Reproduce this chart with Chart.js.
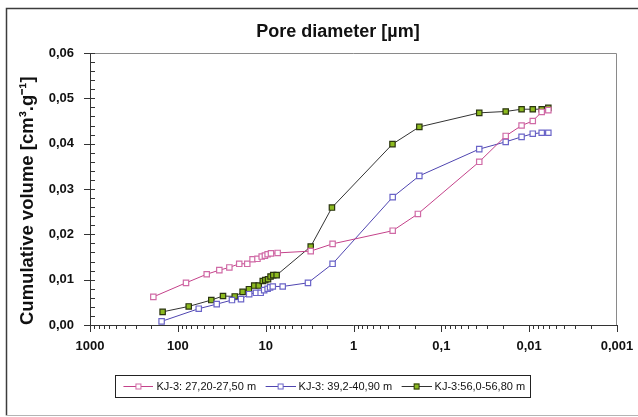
<!DOCTYPE html>
<html>
<head>
<meta charset="utf-8">
<script src="https://cdn.jsdelivr.net/npm/chart.js@4"></script>
<style>
  body { margin: 0; background: #fff; }
  canvas { display: block; }
</style>
</head>
<body>
<canvas id="poreChart" width="638" height="417"></canvas>
<script>
// pore diameter [um] and cumulative volume [cm3/g]
const seriesNames = ['KJ-3: 27,20-27,50 m', 'KJ-3: 39,2-40,90 m', 'KJ-3:56,0-56,80 m'];

const diameterA = [190, 80.7, 46.9, 33.7, 25.9, 20.0, 16.2, 14.1, 12.4, 11.1, 10.2, 9.5, 8.7, 7.3, 3.07, 1.73, 0.358, 0.185, 0.037, 0.0185, 0.0122, 0.0091, 0.0072, 0.00605];
const volumeA = [0.0062, 0.0093, 0.0112, 0.0121, 0.0127, 0.0135, 0.0135, 0.0145, 0.0146, 0.0151, 0.0153, 0.0156, 0.0158, 0.0159, 0.0163, 0.0179, 0.0208, 0.0245, 0.0360, 0.0417, 0.0440, 0.0450, 0.0470, 0.0474];

const diameterB = [153, 57.8, 36.1, 24.2, 19.1, 15.4, 12.9, 11.4, 10.4, 9.5, 8.9, 8.3, 6.4, 3.3, 1.73, 0.358, 0.178, 0.037, 0.0185, 0.0122, 0.0091, 0.0072, 0.00605];
const volumeB = [0.0008, 0.0036, 0.0046, 0.0055, 0.0057, 0.0068, 0.0071, 0.0071, 0.0077, 0.0080, 0.0083, 0.0085, 0.0085, 0.0093, 0.0135, 0.0282, 0.0329, 0.0388, 0.0404, 0.0415, 0.0422, 0.0424, 0.0424];

const diameterC = [149, 75.2, 41.6, 30.6, 22.5, 18.3, 15.5, 13.5, 12.0, 10.8, 10.1, 9.4, 8.8, 8.2, 7.5, 3.07, 1.76, 0.36, 0.178, 0.037, 0.0185, 0.0122, 0.0091, 0.0072, 0.00605];
const volumeC = [0.0029, 0.0041, 0.0055, 0.0064, 0.0063, 0.0073, 0.0079, 0.0087, 0.0087, 0.0097, 0.0099, 0.0101, 0.0107, 0.0110, 0.0110, 0.0173, 0.0259, 0.0399, 0.0437, 0.0468, 0.0471, 0.0476, 0.0476, 0.0476, 0.0479];

const xTickValues = [1000, 100, 10, 1, 0.1, 0.01, 0.001];
const yMin = 0;
const yMax = 0.06;
const yStep = 0.01;
const yMinorStep = 0.002;

const FONT = '"Liberation Sans", Arial, sans-serif';

function makeIcon(line, fill, edge) {
  const c = document.createElement('canvas');
  c.width = 36;
  c.height = 9;
  const g = c.getContext('2d');
  g.strokeStyle = line;
  g.lineWidth = 1;
  g.beginPath();
  g.moveTo(6, 4.5);
  g.lineTo(36, 4.5);
  g.stroke();
  g.fillStyle = fill;
  g.fillRect(18, 1.5, 6, 6);
  g.strokeStyle = edge;
  g.strokeRect(18.5, 2, 5, 5);
  return c;
}

function series(label, xs, ys, line, fill, edge) {
  return {
    label: label,
    data: xs.map((d, i) => ({ x: d, y: ys[i] })),
    borderColor: line,
    borderWidth: 1,
    pointStyle: 'rect',
    pointRadius: 3.8,
    pointHoverRadius: 3.8,
    pointBackgroundColor: fill,
    pointBorderColor: edge,
    pointBorderWidth: 1.2,
    tension: 0,
    fill: false
  };
}

const colors = [
  ['#c4428a', '#ffffff', '#d06aa6'],
  ['#4f45b0', '#ffffff', '#6a64c8'],
  ['#333333', '#8cba1f', '#2b3510']
];
const icons = colors.map(c => makeIcon(c[0], c[1], c[2]));

// frame, tick marks, title and legend box
const decorPlugin = {
  id: 'decor',
  afterDraw(chart) {
    const { ctx, chartArea: a, scales } = chart;
    const x = scales.x, y = scales.y;
    const W = chart.width, H = chart.height;
    ctx.save();

    // outer frame (open on the right, cut by the page edge)
    ctx.strokeStyle = '#3c3c3c';
    ctx.lineWidth = 1.5;
    ctx.beginPath();
    ctx.moveTo(6.5, H - 1.5);
    ctx.lineTo(6.5, 8.5);
    ctx.lineTo(W, 8.5);
    ctx.stroke();
    ctx.strokeStyle = '#b4b4b4';
    ctx.lineWidth = 1;
    ctx.beginPath();
    ctx.moveTo(6, H - 1.5);
    ctx.lineTo(W, H - 1.5);
    ctx.stroke();

    // plot frame
    ctx.strokeStyle = '#8a8a8a';
    ctx.beginPath();
    ctx.moveTo(a.left, a.top + 0.5);
    ctx.lineTo(a.right - 0.5, a.top + 0.5);
    ctx.lineTo(a.right - 0.5, a.bottom);
    ctx.stroke();

    ctx.strokeStyle = '#333333';
    ctx.beginPath();
    ctx.moveTo(a.left + 0.5, a.top);
    ctx.lineTo(a.left + 0.5, a.bottom + 0.5);
    ctx.lineTo(a.right, a.bottom + 0.5);
    ctx.stroke();

    // y ticks
    ctx.beginPath();
    for (let v = yMin; v <= yMax + 1e-9; v += yMinorStep) {
      const py = Math.round(y.getPixelForValue(v)) + 0.5;
      const major = Math.abs(v / yStep - Math.round(v / yStep)) < 1e-6;
      ctx.moveTo(a.left - (major ? 6 : 0), py);
      ctx.lineTo(a.left + 5, py);
    }
    // x ticks
    xTickValues.forEach((p, i) => {
      const px = Math.round(x.getPixelForValue(p)) + 0.5;
      ctx.moveTo(px, a.bottom);
      ctx.lineTo(px, a.bottom + 7);
      if (i > 0) {
        for (let k = 2; k <= 9; k++) {
          const mx = Math.round(x.getPixelForValue(k * p)) + 0.5;
          ctx.moveTo(mx, a.bottom);
          ctx.lineTo(mx, a.bottom + 4);
        }
      }
    });
    ctx.stroke();

    // chart title
    ctx.fillStyle = '#111111';
    ctx.font = 'bold 18px ' + FONT;
    ctx.textAlign = 'center';
    ctx.textBaseline = 'middle';
    ctx.fillText('Pore diameter [µm]', 338, 32);

    // legend box
    const boxes = chart.legend.legendHitBoxes;
    if (boxes && boxes.length) {
      const first = boxes[0], last = boxes[boxes.length - 1];
      const l = Math.round(first.left) - 4.5;
      const r = Math.round(last.left + last.width) + 5.5;
      const t = Math.round(first.top) - 5.5;
      const b = Math.round(first.top + first.height) + 5.5;
      ctx.strokeStyle = '#222222';
      ctx.lineWidth = 1;
      ctx.strokeRect(l, t, r - l, b - t);
    }
    ctx.restore();
  }
};

new Chart(document.getElementById('poreChart'), {
  type: 'line',
  data: {
    datasets: [
      series(seriesNames[0], diameterA, volumeA, ...colors[0]),
      series(seriesNames[1], diameterB, volumeB, ...colors[1]),
      series(seriesNames[2], diameterC, volumeC, ...colors[2])
    ]
  },
  options: {
    responsive: false,
    animation: false,
    layout: { padding: { left: 28, right: 21, top: 53, bottom: 15 } },
    plugins: {
      title: { display: false },
      tooltip: { enabled: false },
      legend: {
        position: 'bottom',
        labels: {
          usePointStyle: true,
          pointStyleWidth: 31,
          padding: 6,
          color: '#111111',
          font: { family: FONT, size: 11 },
          generateLabels: chart => {
            const items = Chart.defaults.plugins.legend.labels.generateLabels(chart);
            items.forEach(it => { it.pointStyle = icons[it.datasetIndex]; });
            return items;
          }
        }
      }
    },
    scales: {
      x: {
        type: 'logarithmic',
        reverse: true,
        min: xTickValues[xTickValues.length - 1],
        max: xTickValues[0],
        grid: { display: false, drawTicks: false },
        border: { display: false },
        afterBuildTicks: scale => {
          scale.ticks = xTickValues.map(v => ({ value: v }));
        },
        afterFit: scale => {
          scale.height = 50;
          scale.paddingRight = 17;
        },
        ticks: {
          autoSkip: false,
          maxRotation: 0,
          padding: 14,
          color: '#111111',
          font: { family: FONT, size: 13, weight: 'bold' },
          callback: v => String(v).replace('.', ',')
        }
      },
      y: {
        min: yMin,
        max: yMax,
        grid: { display: false, drawTicks: false },
        border: { display: false },
        afterFit: scale => { scale.width = 62; },
        ticks: {
          stepSize: yStep,
          padding: 16,
          color: '#111111',
          font: { family: FONT, size: 13, weight: 'bold' },
          callback: v => v.toFixed(2).replace('.', ',')
        },
        title: {
          display: true,
          text: 'Cumulative volume [cm³.g⁻¹]',
          align: 'start',
          color: '#111111',
          padding: { top: -11, bottom: 0 },
          font: { family: FONT, size: 18.5, weight: 'bold' }
        }
      }
    }
  },
  plugins: [decorPlugin]
});
</script>
</body>
</html>
